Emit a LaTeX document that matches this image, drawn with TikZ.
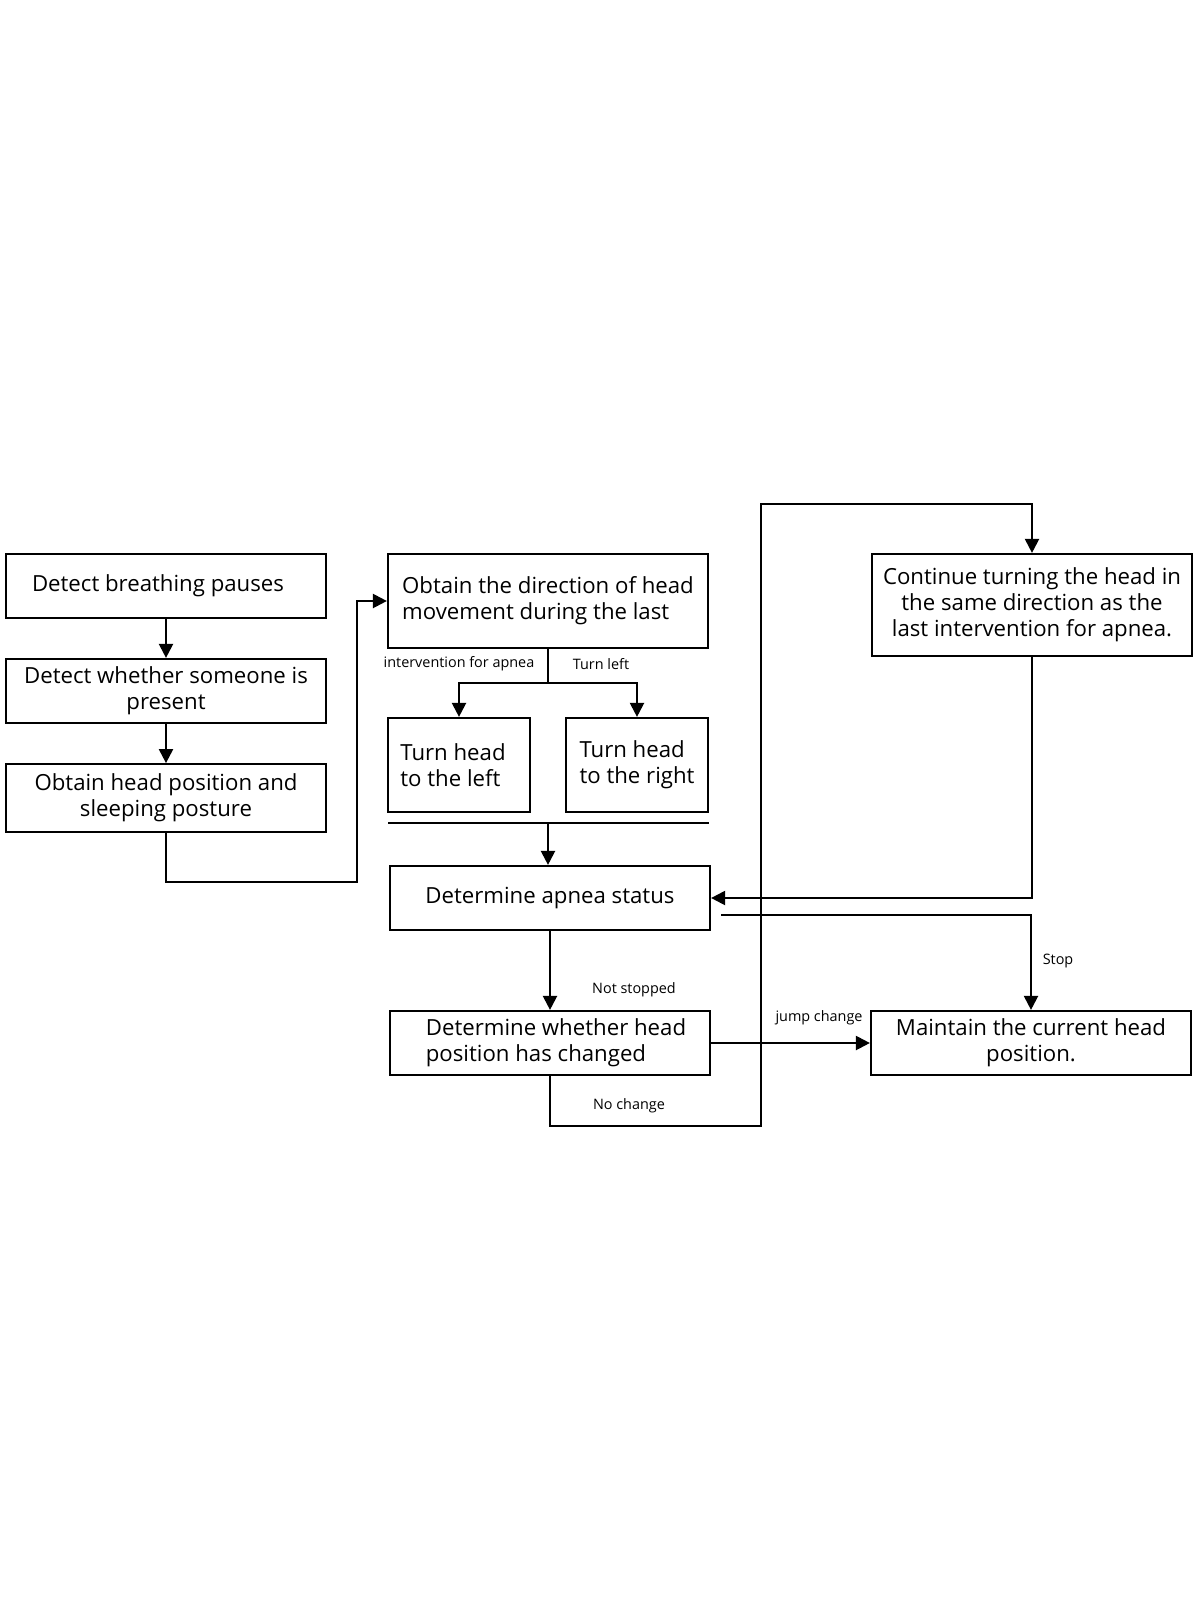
\documentclass[tikz,border=0pt]{standalone}
\usepackage{fontspec}
\setmainfont{Open Sans}
\usetikzlibrary{arrows.meta,positioning}

\begin{document}
\begin{tikzpicture}[x=0.5pt,y=-0.5pt,>={Triangle[length=7pt,width=7pt]},line width=1.1pt,
            main node/.style={draw,rectangle,inner sep=2pt,align=center,
              font=\fontsize{11.1}{13}\selectfont,minimum width=160pt,minimum height=32pt},
            small node/.style={main node,minimum width=71pt,minimum height=47pt,align=left},
            edge label/.style={font=\fontsize{7.2}{8}\selectfont,inner sep=0pt}]

        \useasboundingbox (0,0) rectangle (1200,1600);

        % left column
        \node[main node] (pauses) at (166,586) {Detect breathing pauses\hspace*{8pt}};
        \node[main node] (present) [below of=pauses,node distance=52.5pt] {Detect whether someone is\\present};
        \node[main node,minimum height=34pt] (posture) [below of=present,node distance=53.6pt] {Obtain head position and\\sleeping posture};

        % middle column
        \node[main node,minimum height=47pt,align=left] (lastdir) at (548,601) {Obtain the direction of head\\movement during the last};
        \node[small node] (turnleft) at (459,765) {Turn head\hspace*{6pt}\\to the left};
        \node[small node] (turnright) at (637,765) {Turn head\\to the right};
        \node[main node] (status) at (550,898) {Determine apnea status};
        \node[main node,align=left] (changed) at (550,1043) {\hspace*{6pt}Determine whether head\\\hspace*{6pt}position has changed};

        % right column
        \node[main node,minimum height=51pt] (same) at (1032,605) {Continue turning the head in\\the same direction as the\\last intervention for apnea.};
        \node[main node] (keep) at (1031,1043) {Maintain the current head\\position.};

        % labels
        \node[edge label] (lintervention) at (459,664) {intervention for apnea};
        \node[edge label] (lturnleft) at (601,664) {Turn left};
        \node[edge label] (lnotstopped) at (634,990) {Not stopped};
        \node[edge label] (ljump) at (819,1018) {jump change};
        \node[edge label] (lstop) at (1058,961) {Stop};
        \node[edge label] (lnochange) at (629,1106) {No change};

        % helper points
        \coordinate (split) at (lastdir.south |- 0,683);
        \coordinate (barleft) at (388,823);
        \coordinate (barright) at (709,823);
        \coordinate (barmid) at (548,823);
        \coordinate (stopstart) at (721,915);

        \draw[->] (pauses) -- (present);
        \draw[->] (present) -- (posture);
        \draw[->] (posture.south) |- (357,882) |- (lastdir.west);
        \draw (lastdir.south) -- (split);
        \draw[->] (split) -| (turnleft.north);
        \draw[->] (split) -| (turnright.north);
        \draw (barleft) -- (barright);
        \draw[->] (barmid) -- (status.north -| barmid);
        \draw[->] (same.south) |- (status.east);
        \draw[->] (stopstart) -| (keep.north);
        \draw[->] (status.south) -- (changed.north);
        \draw[->] (changed.east) -- (keep.west);
        \draw[->] (changed.south) |- (761,1126) |- (same.north |- 0,504) -- (same.north);

    \end{tikzpicture}
\end{document}
